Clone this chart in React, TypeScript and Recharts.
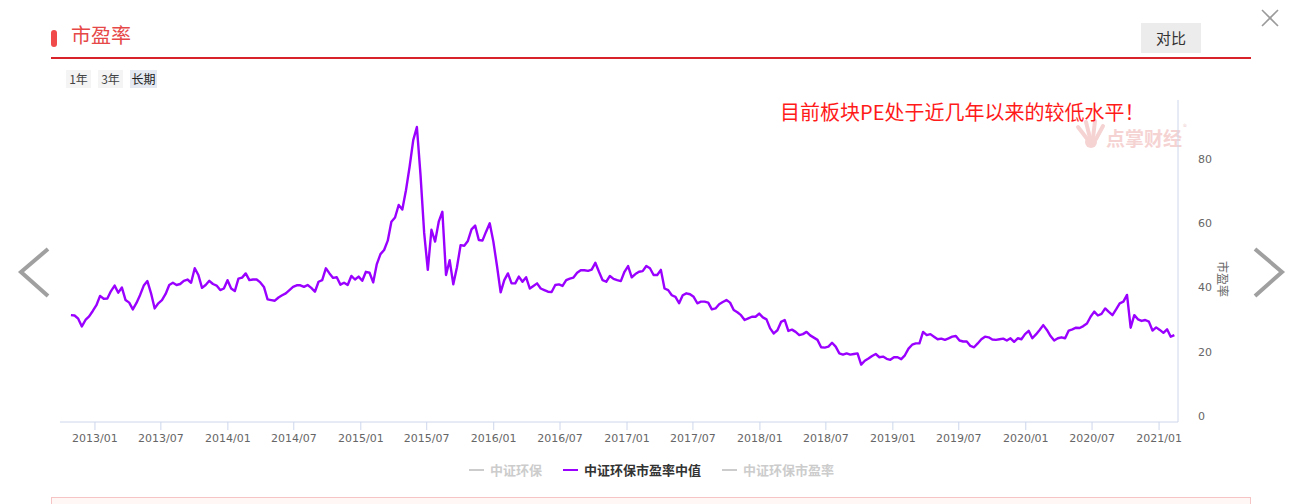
import React from "react";
import { LineChart, Line, XAxis, YAxis } from "recharts";

const DAY = 86400000;
// first reading of the series and spacing between readings (10 days)
const FIRST_POINT = Date.UTC(2012, 9, 27);
const STEP_DAYS = 10;
const X_MIN = Date.UTC(2012, 8, 27);
const X_MAX = Date.UTC(2021, 1, 22);

// 中证环保市盈率中值, every 10 days
const peValues = [
  31.4, 31.3, 30.3, 27.9, 29.9, 31.0, 32.7, 34.5, 37.4, 36.5,
  36.6, 38.9, 40.6, 38.4, 40.0, 36.1, 35.3, 33.2, 35.2, 37.7,
  40.6, 42.0, 38.2, 33.5, 35.1, 36.1, 38.0, 40.8, 41.5, 40.8,
  41.1, 42.1, 42.5, 41.5, 46.0, 43.9, 39.9, 40.8, 42.1, 41.1,
  40.6, 39.2, 39.7, 42.3, 39.7, 38.9, 42.8, 43.1, 44.4, 42.3,
  42.5, 42.5, 41.6, 40.2, 36.3, 36.1, 35.9, 36.9, 37.6, 38.2,
  39.2, 40.2, 40.7, 40.7, 40.2, 40.8, 39.9, 38.7, 41.8, 42.3,
  46.0, 44.4, 43.0, 43.2, 40.9, 41.5, 40.8, 43.6, 42.5, 43.4,
  42.1, 44.9, 44.6, 41.6, 47.3, 50.4, 51.7, 54.6, 60.5, 61.8,
  65.7, 64.3, 70.3, 77.6, 85.9, 90.0, 75.0, 57.0, 45.5, 58.0,
  54.3, 60.5, 63.6, 43.9, 48.5, 41.0, 46.3, 53.2, 53.0, 54.5,
  58.1, 59.3, 54.8, 54.6, 57.4, 60.0, 54.3, 46.7, 38.5, 42.3,
  44.4, 41.3, 41.3, 43.4, 41.8, 43.2, 39.7, 40.5, 41.3, 39.7,
  39.2, 38.7, 38.6, 40.8, 41.0, 40.5, 42.3, 42.8, 43.1, 44.6,
  45.4, 45.4, 45.2, 45.6, 47.7, 44.9, 42.3, 41.8, 43.6, 42.7,
  42.3, 42.0, 44.9, 46.7, 43.2, 44.2, 44.9, 45.1, 46.7, 46.0,
  43.9, 43.9, 45.5, 39.7, 39.2, 37.6, 37.1, 35.1, 37.6, 38.2,
  37.9, 37.1, 35.1, 35.6, 35.6, 35.3, 33.2, 33.5, 34.8, 35.5,
  36.1, 35.3, 33.0, 32.3, 31.4, 29.9, 30.4, 30.9, 30.9, 31.9,
  30.7, 30.1, 27.3, 25.7, 26.7, 29.3, 29.9, 26.5, 26.9, 26.2,
  25.2, 25.5, 26.2, 25.1, 24.4, 23.7, 21.4, 21.3, 21.6, 22.8,
  21.6, 19.5, 19.1, 19.5, 19.1, 19.3, 19.5, 16.0, 17.2, 17.9,
  18.7, 19.3, 18.3, 18.5, 17.8, 17.5, 18.3, 18.3, 17.7, 18.9,
  21.0, 22.2, 22.6, 22.6, 26.2, 25.2, 25.5, 24.7, 23.9, 24.1,
  23.7, 24.2, 24.7, 24.9, 23.5, 23.2, 23.2, 21.8, 21.4, 22.6,
  23.9, 24.7, 24.5, 23.8, 23.7, 23.9, 24.1, 23.5, 24.2, 23.1,
  24.2, 23.9, 25.5, 26.5, 24.2, 25.4, 26.8, 28.3, 26.8, 24.9,
  23.5, 24.2, 24.5, 24.2, 26.6, 27.0, 27.5, 27.4, 28.0, 28.8,
  30.9, 32.5, 31.3, 31.8, 33.5, 32.4, 31.4, 33.2, 35.1, 35.6,
  37.7, 27.5, 31.4, 30.1, 29.6, 29.9, 29.4, 26.6, 27.6, 26.8,
  25.9, 27.0, 24.7, 25.2,
];

const xTickLabels = [
  "2013/01", "2013/07", "2014/01", "2014/07", "2015/01", "2015/07",
  "2016/01", "2016/07", "2017/01", "2017/07", "2018/01", "2018/07",
  "2019/01", "2019/07", "2020/01", "2020/07", "2021/01",
];
const yTicks = [0, 20, 40, 60, 80];
const periods = ["1年", "3年", "长期"];
const legendItems = [
  { name: "中证环保", color: "#cccccc", text: "#cccccc" },
  { name: "中证环保市盈率中值", color: "#9a00ff", text: "#333333" },
  { name: "中证环保市盈率", color: "#cccccc", text: "#cccccc" },
];

const data = peValues.map((v, i) => ({ t: FIRST_POINT + i * STEP_DAYS * DAY, pe: v }));
const xTicks = xTickLabels.map((s) => {
  const [y, m] = s.split("/").map(Number);
  return Date.UTC(y, m - 1, 1);
});

const fmtMonth = (t: number) => {
  const d = new Date(t);
  return `${d.getUTCFullYear()}/${String(d.getUTCMonth() + 1).padStart(2, "0")}`;
};

const CJK = '"Noto Sans CJK SC", "Microsoft YaHei", sans-serif';
const AXIS = "#ccd6eb";

export default function App() {
  return (
    <div
      style={{
        position: "absolute",
        left: 0,
        top: 0,
        width: 1303,
        height: 504,
        overflow: "hidden",
        background: "#fff",
        fontFamily: CJK,
      }}
    >
      {/* header */}
      <div style={{ position: "absolute", left: 51, top: 30, width: 6, height: 17, borderRadius: 3, background: "#f04a4a" }} />
      <div style={{ position: "absolute", left: 71, top: 21, fontSize: 20, lineHeight: "28px", color: "#e64848" }}>市盈率</div>
      <div
        style={{
          position: "absolute",
          left: 1141,
          top: 23,
          width: 60,
          height: 30,
          background: "#ececec",
          color: "#333",
          fontSize: 15,
          lineHeight: "30px",
          textAlign: "center",
        }}
      >
        对比
      </div>
      <div style={{ position: "absolute", left: 51, top: 57, width: 1200, height: 2, background: "#d9232b" }} />
      <svg style={{ position: "absolute", left: 0, top: 0 }} width={1303} height={504}>
        <line x1={1262} y1={10} x2={1278} y2={26} stroke="#9a9a9a" strokeWidth={1.6} />
        <line x1={1278} y1={10} x2={1262} y2={26} stroke="#9a9a9a" strokeWidth={1.6} />
        <polyline points="48,249 21,272 48,296" fill="none" stroke="#a0a0a0" strokeWidth={4} />
        <polyline points="1255,249 1282,272 1255,296" fill="none" stroke="#a0a0a0" strokeWidth={4} />
        {/* watermark hand */}
        <g stroke="#f6d3d3" strokeWidth={4} strokeLinecap="round" fill="none">
          <line x1={1088} y1={140} x2={1078} y2={127} />
          <line x1={1090} y1={138} x2={1086} y2={122} />
          <line x1={1093} y1={138} x2={1095} y2={121} />
          <line x1={1096} y1={139} x2={1103} y2={126} />
        </g>
        <circle cx={1091} cy={142} r={6} fill="#f6d3d3" />
      </svg>
      {periods.map((p, i) => (
        <div
          key={p}
          style={{
            position: "absolute",
            left: [66, 98, 130][i],
            top: 70,
            width: i === 2 ? 27 : 25,
            height: 18,
            background: i === 2 ? "#e4e9f2" : "#f4f4f4",
            color: i === 2 ? "#222" : "#444",
            fontSize: 12,
            lineHeight: "18px",
            textAlign: "center",
          }}
        >
          {p}
        </div>
      ))}
      <div style={{ position: "absolute", left: 1106, top: 126, fontSize: 19, fontWeight: 700, color: "#f6d3d3", lineHeight: "24px" }}>
        点掌财经
      </div>
      <div style={{ position: "absolute", left: 1183, top: 121, fontSize: 8, color: "#f0d0d0" }}>®</div>

      <LineChart
        width={1303}
        height={504}
        data={data}
        margin={{ top: 100, right: 65, bottom: 52, left: 60 }}
        style={{ position: "absolute", left: 0, top: 0 }}
      >
        <XAxis
          dataKey="t"
          type="number"
          domain={[X_MIN, X_MAX]}
          allowDataOverflow
          ticks={xTicks}
          interval={0}
          tickFormatter={fmtMonth}
          height={30}
          tickSize={8}
          tickMargin={4}
          axisLine={{ stroke: AXIS }}
          tickLine={{ stroke: AXIS }}
          tick={{ fill: "#666", fontSize: 11, fontFamily: '"DejaVu Sans", sans-serif' }}
        />
        <YAxis
          yAxisId="l"
          orientation="left"
          width={0}
          domain={[-1.87, 98.4]}
          allowDataOverflow
          tick={false}
          tickLine={false}
          axisLine={{ stroke: AXIS }}
        />
        <YAxis
          yAxisId="r"
          orientation="right"
          width={60}
          domain={[-1.87, 98.4]}
          allowDataOverflow
          ticks={yTicks}
          interval={0}
          tickSize={12}
          tickMargin={8}
          tickLine={false}
          axisLine={{ stroke: AXIS }}
          tick={{ fill: "#666", fontSize: 11, fontFamily: '"DejaVu Sans", sans-serif' }}
        />
        <Line
          yAxisId="r"
          dataKey="pe"
          type="linear"
          stroke="#9a00ff"
          strokeWidth={2.4}
          strokeLinejoin="round"
          dot={false}
          activeDot={false}
          isAnimationActive={false}
        />
      </LineChart>

      <div
        style={{
          position: "absolute",
          left: 1214,
          top: 272,
          width: 18,
          fontSize: 12,
          color: "#666",
          transform: "rotate(90deg)",
          transformOrigin: "center",
          whiteSpace: "nowrap",
          lineHeight: "16px",
        }}
      >
        <span style={{ display: "inline-block", transform: "translateX(-10px)" }}>市盈率</span>
      </div>

      <div
        style={{
          position: "absolute",
          left: 780,
          top: 99,
          fontSize: 20,
          lineHeight: "26px",
          color: "#ff1a1a",
          whiteSpace: "nowrap",
        }}
      >
        目前板块PE处于近几年以来的较低水平！
      </div>

      {/* legend */}
      <div
        style={{
          position: "absolute",
          left: 0,
          top: 461,
          width: 1303,
          display: "flex",
          justifyContent: "center",
          fontSize: 13,
          fontWeight: 700,
          lineHeight: "18px",
        }}
      >
        {legendItems.map((it, i) => (
          <div key={it.name} style={{ display: "flex", alignItems: "center", marginLeft: i === 0 ? 0 : 21 }}>
            <div style={{ width: 15, height: 2, background: it.color, marginRight: 6 }} />
            <span style={{ color: it.text }}>{it.name}</span>
          </div>
        ))}
      </div>

      <div
        style={{
          position: "absolute",
          left: 51,
          top: 497,
          width: 1198,
          height: 20,
          border: "1px solid #f6c4c4",
          background: "#fff6f6",
        }}
      />
    </div>
  );
}
